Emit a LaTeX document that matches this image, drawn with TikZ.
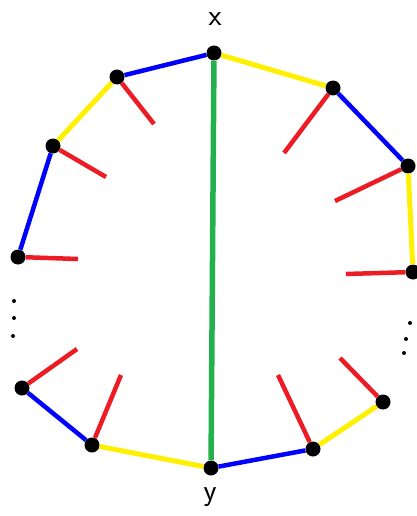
\documentclass[tikz,border=0pt]{standalone}
\usepackage{tikz}
\definecolor{eblue}{RGB}{0,0,255}
\definecolor{eyellow}{RGB}{255,240,0}
\definecolor{ered}{RGB}{237,28,36}
\definecolor{egreen}{RGB}{34,177,76}
\tikzset{
  vtx/.style={circle,fill=black,inner sep=0pt,minimum size=15pt},
  bedge/.style={eblue,line width=4.5pt},
  yedge/.style={eyellow,line width=5pt},
  redge/.style={ered,line width=4.5pt},
  gedge/.style={egreen,line width=5.5pt},
  lbl/.style={font=\sffamily\fontsize{30}{30}\selectfont},
  pt/.style={circle,fill=black,inner sep=0pt,minimum size=4pt}
}
\begin{document}
\begin{tikzpicture}[x=1pt,y=-1pt]
\useasboundingbox (0,0) rectangle (417,516);
\node[vtx] (x) at (214,53) {};\node[vtx] (y) at (211,468) {};
\node[vtx] (l1) at (117,77) {};\node[vtx] (l2) at (53,146) {};\node[vtx] (l3) at (18,257) {};
\node[vtx] (l4) at (22,388) {};\node[vtx] (l5) at (92,445) {};
\node[vtx] (r1) at (333,88) {};\node[vtx] (r2) at (408,166) {};\node[vtx] (r3) at (413,272) {};
\node[vtx] (r4) at (383,402) {};\node[vtx] (r5) at (313,449) {};
\node[lbl] (xl) at (215,19) {x};\node[lbl] (yl) at (210,497) {y};
% stub ends
\coordinate (s1) at (154,124);\coordinate (s2) at (106,177);\coordinate (s3) at (78,259);
\coordinate (s4) at (77,349);\coordinate (s5) at (121,375);
\coordinate (t1) at (284,153);\coordinate (t2) at (335,201);\coordinate (t3) at (346,274);
\coordinate (t4) at (340,358);\coordinate (t5) at (278,375);
\draw[gedge] (x)--(y);
\draw[bedge] (x)--(l1);\draw[yedge] (l1)--(l2);\draw[bedge] (l2)--(l3);
\draw[yedge] (x)--(r1);\draw[bedge] (r1)--(r2);\draw[yedge] (r2)--(r3);
\draw[bedge] (l4)--(l5);\draw[yedge] (l5)--(y);
\draw[bedge] (y)--(r5);\draw[yedge] (r5)--(r4);
\draw[redge] (l1)--(s1);\draw[redge] (l2)--(s2);\draw[redge] (l3)--(s3);
\draw[redge] (l4)--(s4);\draw[redge] (l5)--(s5);
\draw[redge] (r1)--(t1);\draw[redge] (r2)--(t2);\draw[redge] (r3)--(t3);
\draw[redge] (r4)--(t4);\draw[redge] (r5)--(t5);
% dots
\node[pt] (d1) at (14,301) {};\node[pt] (d2) at (14,318) {};\node[pt] (d3) at (13,336) {};
\node[pt] (e1) at (410,323) {};\node[pt] (e2) at (406,339) {};\node[pt] (e3) at (404,353) {};
\end{tikzpicture}
\end{document}
